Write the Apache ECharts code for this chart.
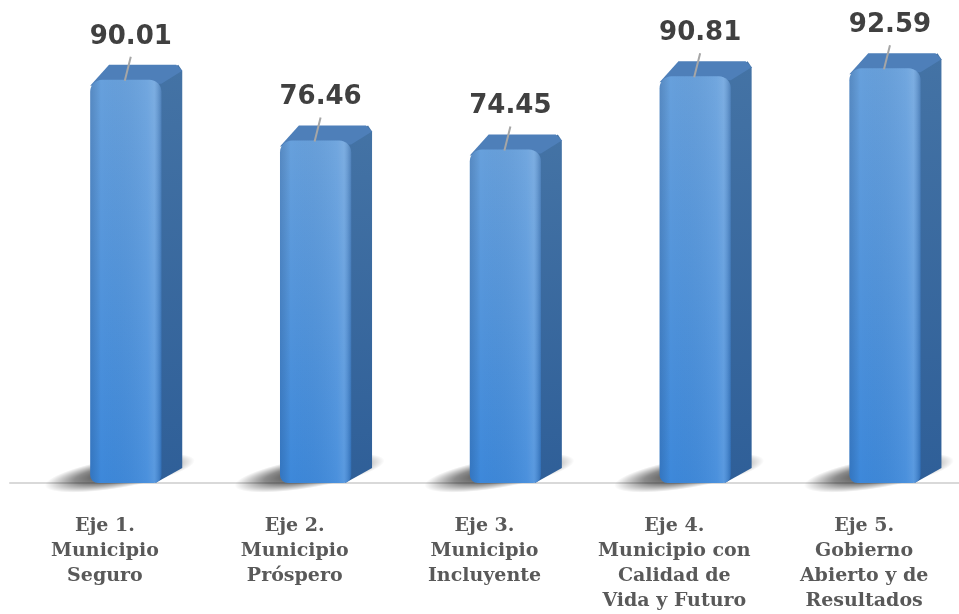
<!DOCTYPE html>
<html>
<head>
<meta charset="utf-8">
<script src="https://cdn.jsdelivr.net/npm/echarts@6/dist/echarts.min.js"></script>
<style>
html,body{margin:0;padding:0;background:#fff;}
#chart{width:959px;height:614px;}
</style>
</head>
<body>
<div id="chart"></div>
<script>
var categories = [
  "Eje 1.\nMunicipio\nSeguro",
  "Eje 2.\nMunicipio\nPróspero",
  "Eje 3.\nMunicipio\nIncluyente",
  "Eje 4.\nMunicipio con\nCalidad de\nVida y Futuro",
  "Eje 5.\nGobierno\nAbierto y de\nResultados"
];
var values = [90.01, 76.46, 74.45, 90.81, 92.59];

var chart = echarts.init(document.getElementById('chart'));

function renderBar(params, api) {
  var idx = api.value(0), v = api.value(1);
  var top = api.coord([idx, v]);
  var bot = api.coord([idx, 0]);
  var band = api.size([1, 0])[0];
  var w = band * 0.375, dx = band * 0.11, dy = 15;
  var cx = top[0] + band * 0.11;
  var L = cx - w / 2, R = cx + w / 2, T = top[1], B = bot[1];
  return {
    type: 'group',
    children: [
      {
        type: 'circle',
        shape: { cx: 0, cy: 0, r: 1 },
        x: cx - 6, y: B - 10, scaleX: 76, scaleY: 15, rotation: 0.17,
        style: {
          fill: new echarts.graphic.RadialGradient(0.5, 0.5, 0.5, [
            { offset: 0, color: 'rgba(0,0,0,0.8)' },
            { offset: 0.6, color: 'rgba(0,0,0,0.45)' },
            { offset: 1, color: 'rgba(0,0,0,0)' }
          ])
        }
      },
      {
        type: 'polygon',
        shape: { points: [[R - 6, T], [R + dx - 4, T - dy], [R + dx, T - dy + 6], [R + dx, B - dy], [R - 6, B]] },
        style: {
          fill: new echarts.graphic.LinearGradient(0, 0, 0, 1, [
            { offset: 0, color: '#4473a5' },
            { offset: 1, color: '#2f5f98' }
          ])
        }
      },
      {
        type: 'polygon',
        shape: { points: [[L, T + 6], [L + dx - 2, T - dy], [R + dx - 6, T - dy], [R + dx, T - dy + 6], [R, T + 4]] },
        style: { fill: '#4e7fb9' }
      },
      {
        type: 'rect',
        shape: { x: L, y: T, width: w, height: B - T, r: [12, 12, 8, 8] },
        style: {
          fill: new echarts.graphic.LinearGradient(0, 0, 0, 1, [
            { offset: 0, color: '#67a0dc' },
            { offset: 1, color: '#3d88da' }
          ])
        }
      },
      {
        type: 'rect',
        shape: { x: L, y: T, width: w, height: B - T, r: [12, 12, 8, 8] },
        style: {
          fill: new echarts.graphic.LinearGradient(0, 0, 1, 0, [
            { offset: 0, color: 'rgba(0,20,60,0.16)' },
            { offset: 0.15, color: 'rgba(0,0,0,0)' },
            { offset: 0.8, color: 'rgba(255,255,255,0.07)' },
            { offset: 0.9, color: 'rgba(255,255,255,0.14)' },
            { offset: 1, color: 'rgba(0,20,60,0.22)' }
          ])
        }
      },
      {
        type: 'line',
        shape: { x1: cx - 1, y1: T + 1, x2: cx + 5, y2: T - 23 },
        style: { stroke: '#a6a6a6', lineWidth: 2 }
      },
      {
        type: 'text',
        x: cx + 5, y: T - 43,
        style: {
          text: v.toFixed(2),
          fill: '#404040',
          fontFamily: 'DejaVu Sans',
          fontWeight: 'bold',
          fontSize: 26,
          align: 'center',
          verticalAlign: 'middle'
        }
      }
    ]
  };
}

chart.setOption({
  animation: false,
  grid: { left: 10, right: 0, top: 35, bottom: 127 },
  xAxis: {
    type: 'category',
    data: categories,
    offset: 15,
    axisLine: { show: true, lineStyle: { color: '#d9d9d9', width: 2 } },
    axisTick: { show: false },
    axisLabel: {
      interval: 0,
      margin: 16,
      color: '#595959',
      fontFamily: 'DejaVu Serif',
      fontWeight: 'bold',
      fontSize: 19,
      lineHeight: 25
    }
  },
  yAxis: { type: 'value', min: 0, max: 100, show: false, splitLine: { show: false } },
  series: [{
    type: 'custom',
    renderItem: renderBar,
    data: values.map(function (v, i) { return [i, v]; }),
    encode: { x: 0, y: 1 },
    clip: false
  }]
});
</script>
</body>
</html>
